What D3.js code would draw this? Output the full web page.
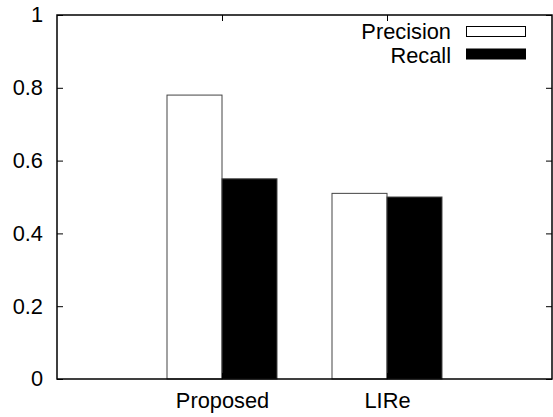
<!DOCTYPE html>
<html><head><meta charset="utf-8">
<script src="https://cdn.jsdelivr.net/npm/d3@7"></script>
<style>body{margin:0;background:#fff}svg{display:block}text{font-family:"Liberation Sans",Arial,sans-serif}</style>
</head><body>
<script>
const categories = ["Proposed", "LIRe"];
const seriesNames = ["Precision", "Recall"];
const precision = [0.78, 0.51];
const recall = [0.55, 0.50];
const yTicks = [0, 0.2, 0.4, 0.6, 0.8, 1];
const yTickLabels = ["0", "0.2", "0.4", "0.6", "0.8", "1"];
const fills = ["#ffffff", "#000000"];

const W = 553, H = 417;
const L = 57, R = 552, T = 15, B = 379;
const fs = 21.8;
const svg = d3.select("body").append("svg").attr("width", W).attr("height", H);
svg.append("rect").attr("width", W).attr("height", H).attr("fill", "#fff");

const x = d3.scaleLinear().domain([-1, 2]).range([L, R]);
const y = d3.scaleLinear().domain([0, 1]).range([B, T]);
const bw = 1 / 3;
const series = [precision, recall];

// bars
series.forEach((vals, j) => {
  svg.append("g").selectAll("rect").data(vals).join("rect")
    .attr("x", (d, i) => x(i - bw + j * bw))
    .attr("width", x(bw) - x(0))
    .attr("y", d => y(d))
    .attr("height", d => y(0) - y(d))
    .attr("fill", fills[j])
    .attr("stroke", "#444")
    .attr("stroke-width", 1);
});

// y axis left
const yAxis = d3.axisLeft(y).tickValues(yTicks).tickFormat((d, i) => yTickLabels[i]).tickSize(-6).tickPadding(14);
const gy = svg.append("g").attr("transform", `translate(${L},0)`).call(yAxis);
gy.select(".domain").remove();
gy.selectAll("line").attr("stroke", "#000");
gy.selectAll("text").attr("font-size", fs).attr("fill", "#000").attr("font-family", "Liberation Sans, Arial, sans-serif");
// y axis right mirror
const gyr = svg.append("g").attr("transform", `translate(${R},0)`).call(d3.axisRight(y).tickValues(yTicks).tickSize(-6).tickFormat(""));
gyr.select(".domain").remove();
gyr.selectAll("line").attr("stroke", "#000");

// x axis
const gx = svg.append("g").attr("transform", `translate(0,${B})`)
  .call(d3.axisBottom(x).tickValues([0, 1]).tickFormat((d, i) => categories[i]).tickSize(-6).tickPadding(14));
gx.select(".domain").remove();
gx.selectAll("line").attr("stroke", "#000");
gx.selectAll("text").attr("font-size", fs).attr("fill", "#000").attr("font-family", "Liberation Sans, Arial, sans-serif");
const gxt = svg.append("g").attr("transform", `translate(0,${T})`)
  .call(d3.axisTop(x).tickValues([0, 1]).tickSize(-6).tickFormat(""));
gxt.select(".domain").remove();
gxt.selectAll("line").attr("stroke", "#000");

// border
svg.append("rect").attr("x", L).attr("y", T).attr("width", R - L).attr("height", B - T)
  .attr("fill", "none").attr("stroke", "#000").attr("stroke-width", 1.5);

// legend
const legTextY = [31.5, 55.5];
const legBoxY = [31.5, 54];
const lg = svg.append("g");
seriesNames.forEach((name, j) => {
  lg.append("text").attr("x", 451).attr("y", legTextY[j]).attr("dy", "0.35em")
    .attr("text-anchor", "end").attr("font-size", fs).text(name);
  lg.append("rect").attr("x", 466.5).attr("y", legBoxY[j] - 5).attr("width", 59).attr("height", 10)
    .attr("fill", fills[j]).attr("stroke", "#000").attr("stroke-width", 1);
});
</script>
</body></html>
